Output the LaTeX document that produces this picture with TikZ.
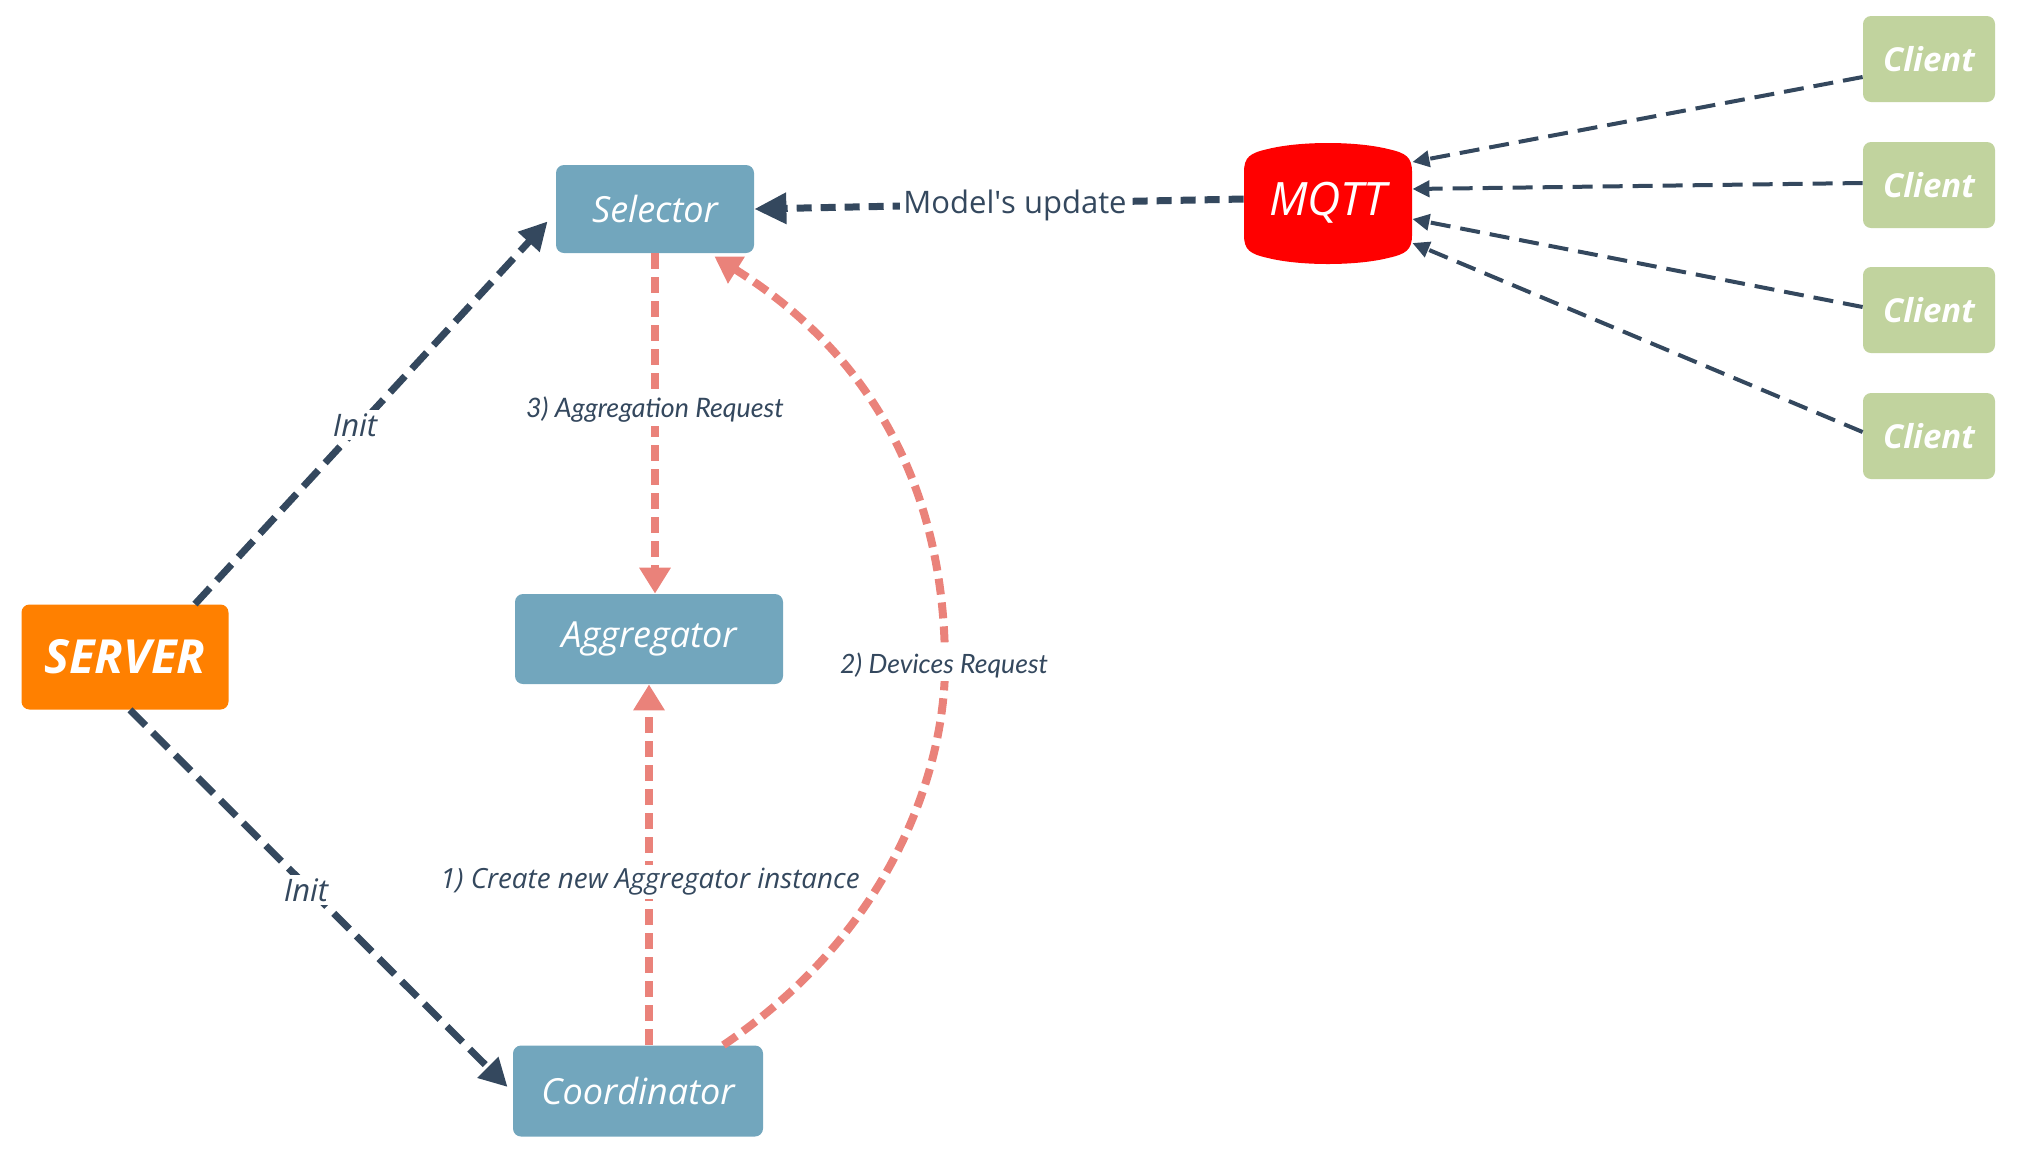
\documentclass[tikz,border=0pt]{standalone}
\usepackage{fontspec}
\setmainfont{Open Sans}
\newfontfamily\labfont{Lato}
\usetikzlibrary{arrows.meta,calc}
\definecolor{navy}{RGB}{52,72,94}
\definecolor{pinkline}{RGB}{234,130,122}
\definecolor{boxblue}{RGB}{114,166,189}
\definecolor{clientgreen}{RGB}{193,211,158}
\definecolor{srvorange}{RGB}{255,128,0}
\definecolor{mqttred}{RGB}{255,0,0}
\begin{document}
\begin{tikzpicture}[x=0.5pt,y=-0.5pt,
  box/.style={rectangle, rounded corners=4pt, fill=boxblue, text=white, inner sep=0pt,
    font=\itshape\fontsize{18}{21}\selectfont},
  clientbox/.style={rectangle, rounded corners=4pt, fill=clientgreen, text=white, inner sep=0pt,
    minimum width=66pt, minimum height=43pt, font=\bfseries\itshape\fontsize{16.5}{20}\selectfont},
  navyarrow/.style={draw=navy, line width=3.5pt, dash pattern=on 11pt off 5pt,
    -{Triangle[length=14pt,width=14pt]}},
  modelarrow/.style={draw=navy, line width=3.5pt, dash pattern=on 7.5pt off 4.5pt,
    -{Triangle[length=16pt,width=15pt]}},
  pinkarrow/.style={draw=pinkline, line width=4pt, dash pattern=on 8pt off 4pt,
    -{Triangle[length=13pt,width=15pt]}},
  clientarrow/.style={draw=navy, line width=2pt, dash pattern=on 10pt off 5pt,
    -{Triangle[length=8.5pt,width=8pt]}},
  lbl/.style={fill=white, text=navy, inner sep=1.5pt}
]
\useasboundingbox (0,0) rectangle (2017,1153);

% MQTT shape
\fill[mqttred] (1244,172) .. controls (1244,157) and (1250,153) .. (1268,149)
  .. controls (1300,141) and (1356,141) .. (1388,149)
  .. controls (1406,153) and (1412,157) .. (1412,172) -- (1412,235)
  .. controls (1412,250) and (1406,254) .. (1388,258)
  .. controls (1356,266) and (1300,266) .. (1268,258)
  .. controls (1250,254) and (1244,250) .. (1244,235) -- cycle;

% nodes
\node[rectangle, rounded corners=4pt, fill=srvorange, text=white, inner sep=0pt,
  minimum width=103.5pt, minimum height=52.5pt,
  font=\bfseries\itshape\fontsize{23.5}{26}\selectfont] (server) at (125,657) {SERVER};
\node[box, minimum width=99pt, minimum height=44pt] (sel) at (655,209) {Selector};
\node[box, minimum width=134pt, minimum height=45pt] (agg) at (649,639) {Aggregator};
\node[box, minimum width=125pt, minimum height=45.5pt] (coord) at (638,1091) {Coordinator};
\node[minimum width=84pt, minimum height=59.5pt, inner sep=0pt, text=white,
  font=\itshape\fontsize{23}{26}\selectfont] (mqtt) at (1328,203) {MQTT};
\node[clientbox] (c1) at (1929,59) {Client};
\node[clientbox] (c2) at (1929,185) {Client};
\node[clientbox] (c3) at (1929,310) {Client};
\node[clientbox] (c4) at (1929,436) {Client};

% connectors
\draw[navyarrow] ($(server.north)+(70,0)$) -- ($(sel.south west)+(-8,-32)$);
\draw[navyarrow] ($(server.south)+(5,0)$) -- ($(coord.west)+(-5,-4)$);
\draw[modelarrow] ($(mqtt.west)+(0,-4)$) -- (sel.east);
\draw[pinkarrow] (sel.south -| 655,0) -- (agg.north -| 655,0);
\draw[pinkarrow] (coord.north -| agg.south) -- (agg.south);
\draw[pinkarrow] ($(coord.north east)+(-40,0)$) .. controls (900,925) and (945,760) .. (945,665)
  .. controls (945,500) and (880,360) .. ($(sel.south east)+(-40,3)$);
\draw[clientarrow] ($(c1.west)+(0,18)$) -- ($(mqtt.east)+(0,-41)$);
\draw[clientarrow] ($(c2.west)+(0,-2)$) -- ($(mqtt.east)+(0,-14)$);
\draw[clientarrow] ($(c3.west)+(0,-3)$) -- ($(mqtt.east)+(0,16)$);
\draw[clientarrow] ($(c4.west)+(0,-4)$) -- ($(mqtt.east)+(0,40)$);

% labels
\node[lbl, font=\itshape\fontsize{15.5}{18}\selectfont] (l1) at (355,425) {Init};
\node[lbl, font=\itshape\fontsize{15.5}{18}\selectfont] (l2) at (306,890) {Init};
\node[lbl, font=\fontsize{15.5}{18}\selectfont] (l3) at (1015,205) {Model\textquotesingle s update};
\node[lbl, font=\labfont\itshape\fontsize{13.4}{16}\selectfont] (l4) at (655,410) {3) Aggregation Request};
\node[lbl, font=\labfont\itshape\fontsize{13.3}{16}\selectfont] (l5) at (944,665) {2) Devices Request};
\node[lbl, font=\itshape\fontsize{13.9}{16}\selectfont] (l6) at (650,882) {1) Create new Aggregator instance};
\end{tikzpicture}
\end{document}
